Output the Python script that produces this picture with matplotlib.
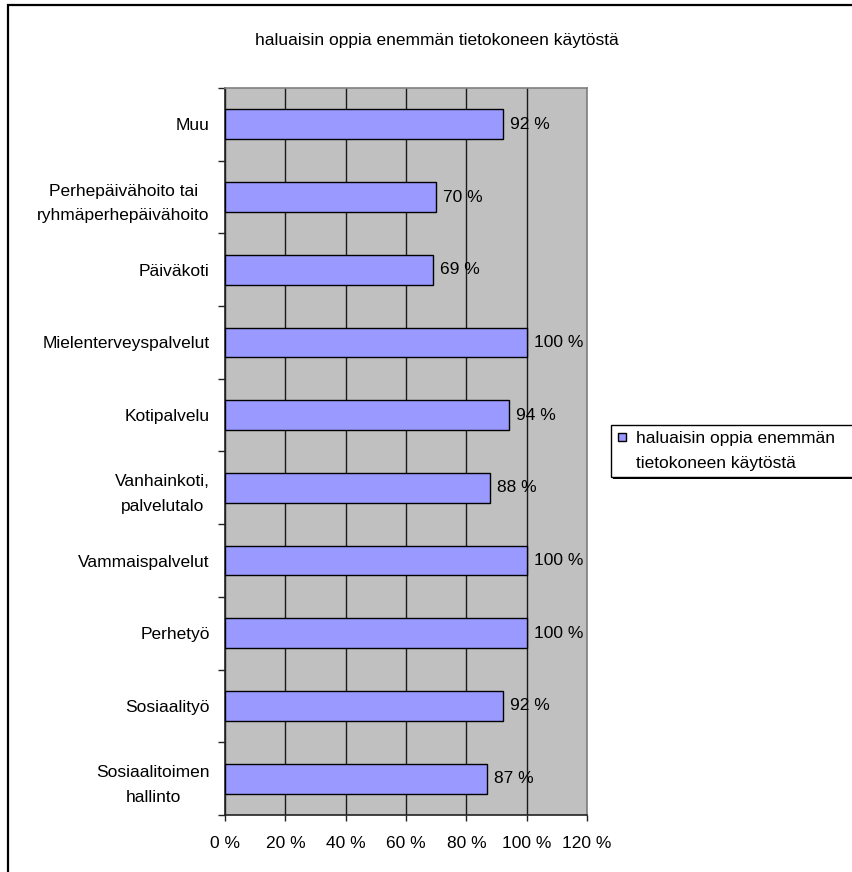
import numpy as np
import matplotlib
matplotlib.use("Agg")
import matplotlib.pyplot as plt
from matplotlib.patches import Rectangle

plt.rcParams['font.family'] = ['Liberation Sans', 'DejaVu Sans']

# ---------- Data ----------
categories = [
    "Muu",
    "Perhepäivähoito tai\nryhmäperhepäivähoito",
    "Päiväkoti",
    "Mielenterveyspalvelut",
    "Kotipalvelu",
    "Vanhainkoti,\npalvelutalo",
    "Vammaispalvelut",
    "Perhetyö",
    "Sosiaalityö",
    "Sosiaalitoimen\nhallinto",
]
values = [92, 70, 69, 100, 94, 88, 100, 100, 92, 87]
x_ticks = [0, 20, 40, 60, 80, 100, 120]
series_name = "haluaisin oppia enemmän tietokoneen käytöstä"
legend_label = "haluaisin oppia enemmän\ntietokoneen käytöstä"

bar_color = "#9999FF"
plot_bg = "#C0C0C0"
fs = 12.5

W, H = 853, 872
fig = plt.figure(figsize=(W / 100, H / 100), dpi=100)

def fx(px):
    return px / W

def fy(py):
    return 1 - py / H

# outer chart border (only top/left fall inside the canvas)
fig.patches.append(Rectangle((fx(8), fy(900)), fx(900), fy(5) - fy(900),
                             transform=fig.transFigure, fill=False,
                             edgecolor="black", linewidth=1.6))

ax = fig.add_axes([fx(225), fy(815), fx(587) - fx(225), fy(88) - fy(815)])
ax.set_facecolor(plot_bg)

y = np.arange(len(categories))
bars = ax.barh(y, values, height=0.41, color=bar_color, edgecolor="black",
               linewidth=1.0, zorder=3)

ax.set_xlim(0, 120)
ax.set_ylim(len(categories) - 0.5, -0.5)

# vertical gridlines
ax.set_xticks(x_ticks)
ax.set_xticklabels([f"{t} %" for t in x_ticks], fontsize=fs)
ax.xaxis.grid(True, color="#1a1a1a", linewidth=1.0, zorder=1)
ax.set_axisbelow(True)

# category ticks at the boundaries, labels in the middle
ax.set_yticks(np.arange(len(categories) + 1) - 0.5)
ax.set_yticklabels([])
ax.set_yticks(y, minor=True)
ax.set_yticklabels(categories, minor=True, fontsize=fs, linespacing=1.8)
for lbl in ax.get_yticklabels(minor=True):
    lbl.set_multialignment("center")
ax.tick_params(axis="y", which="minor", length=0, pad=11)
ax.tick_params(axis="y", which="major", length=5, width=1, color="#222222")
ax.tick_params(axis="x", length=4.3, width=1, color="#222222", pad=10.5)

for side in ("top", "right"):
    ax.spines[side].set_color("#808080")
    ax.spines[side].set_linewidth(1.2)
for side in ("left", "bottom"):
    ax.spines[side].set_color("#222222")
    ax.spines[side].set_linewidth(1.2)

# value labels
for rect, v in zip(bars, values):
    ax.annotate(f"{v} %", xy=(v, rect.get_y() + rect.get_height() / 2),
                xytext=(7, 0), textcoords="offset pixels",
                ha="left", va="center", fontsize=fs, zorder=4)

fig.text(fx(437), fy(41), series_name, ha="center", va="center", fontsize=fs)

# legend box with a small shadow
fig.patches.append(Rectangle((fx(613), fy(479)), fx(400), fy(427) - fy(479),
                             transform=fig.transFigure, facecolor="black",
                             edgecolor="none", zorder=1))
fig.patches.append(Rectangle((fx(611), fy(477)), fx(400), fy(425) - fy(477),
                             transform=fig.transFigure, facecolor="white",
                             edgecolor="black", linewidth=1.0, zorder=2))
fig.patches.append(Rectangle((fx(618), fy(441)), fx(8), fy(433) - fy(441),
                             transform=fig.transFigure, facecolor=bar_color,
                             edgecolor="black", linewidth=1.0, zorder=3))
fig.text(fx(636), fy(451), legend_label, ha="left", va="center",
         fontsize=fs, linespacing=1.8, zorder=4)

fig.savefig("out.png", dpi=100)
